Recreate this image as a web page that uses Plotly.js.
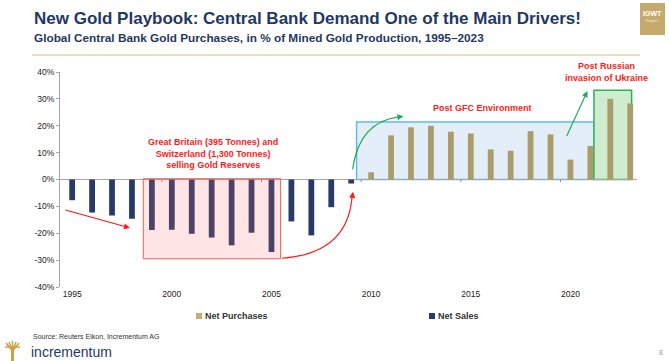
<!DOCTYPE html>
<html>
<head>
<meta charset="utf-8">
<script src="https://cdn.plot.ly/plotly-3.0.1.min.js"></script>
<style>
html,body{margin:0;padding:0;background:#fff;}
#chart{width:669px;height:361px;}
</style>
</head>
<body>
<div id="chart"></div>
<script>
// ---- data ----
const years = [1995,1996,1997,1998,1999,2000,2001,2002,2003,2004,2005,2006,2007,2008,2009,2010,2011,2012,2013,2014,2015,2016,2017,2018,2019,2020,2021,2022,2023];
const netPurchases = [null,null,null,null,null,null,null,null,null,null,null,null,null,null,null,2.7,16.4,19.4,20.0,17.8,17.1,11.2,10.7,18.0,16.8,7.4,12.5,30.0,28.3];
const netSales = [-7.7,-12.3,-13.4,-14.6,-18.8,-18.7,-20.2,-21.6,-24.5,-19.8,-27.0,-15.6,-20.8,-10.3,-1.5,null,null,null,null,null,null,null,null,null,null,null,null,null,null];
const seriesNames = ['Net Purchases','Net Sales'];
const seriesColors = ['#aa9c6b','#283a66'];
const xTickYears = [1995,2000,2005,2010,2015,2020];
const yTicks = [-40,-30,-20,-10,0,10,20,30,40];

// ---- geometry helpers (pixel -> paper) ----
const W = 669, H = 361, L = 60, R = 32, T = 72, B = 74;
const PW = W - L - R, PH = H - T - B;
const px = x => (x - L) / PW;
const py = y => (H - B - y) / PH;

const FONT = 'Liberation Sans, Arial, sans-serif';
const NAVY = '#1f3864';
const RED = '#ff1a1a';
const GREEN = '#1fae55';

const traces = [
  {type:'bar', x: years, y: netPurchases, name: seriesNames[0], width:0.29,
   marker:{color:seriesColors[0]}, hoverinfo:'x+y'},
  {type:'bar', x: years, y: netSales, name: seriesNames[1], width:0.29,
   marker:{color:seriesColors[1]}, hoverinfo:'x+y'}
];

// legend layout (pixel positions of the swatches)
const legendPos = [196, 429];
const legendY = 316;

const shapes = [
  // header gold rule
  {type:'line', xref:'paper', yref:'paper', x0:px(32), x1:px(640), y0:py(55), y1:py(55), line:{color:'#d6bd82', width:1}},
  // IGWT box
  {type:'rect', xref:'paper', yref:'paper', x0:px(640), x1:px(665), y0:py(35), y1:py(3), fillcolor:'#c6a96c', line:{width:0}},
  // regions
  {type:'rect', xref:'x', yref:'y', x0:2009.27, x1:2021.18, y0:0, y1:21.4, layer:'below', fillcolor:'#e4eef8', line:{color:'#5cbdea', width:1.5}},
  {type:'rect', xref:'x', yref:'y', x0:2021.18, x1:2023.07, y0:0, y1:33.2, layer:'below', fillcolor:'#cfeccf', line:{color:'#2bb35a', width:1.5}},
  {type:'rect', xref:'x', yref:'y', x0:1998.57, x1:2005.46, y0:-29.5, y1:0.3, layer:'above', fillcolor:'rgba(255,110,110,0.18)', line:{color:'#ff5a5a', width:1}},
  // curved arrows
  {type:'path', xref:'x', yref:'y', path:'M2005.52,-29.3 Q2008.9,-27.5 2009.05,-5.5', line:{color:RED, width:1.2}},
  {type:'path', xref:'x', yref:'y', path:'M2009.07,3.8 Q2009.4,21.5 2011.4,23.3', line:{color:GREEN, width:1.2}},
  // small category ticks on zero line
  ...[1999.5,2004.5,2009.5,2014.5,2019.5].map(v => ({type:'line', xref:'x', yref:'y', x0:v, x1:v, y0:0, y1:-0.9, line:{color:'#888', width:1}})),
  // legend swatches
  ...legendPos.map((lx, i) => ({type:'rect', xref:'paper', yref:'paper', x0:px(lx), x1:px(lx+6), y0:py(legendY+3), y1:py(legendY-3),
     fillcolor: i === 0 ? '#c2ad74' : seriesColors[1], line:{width:0}})),
  // logo tree (simple)
  {type:'rect', xref:'paper', yref:'paper', x0:px(11), x1:px(14), y0:py(361), y1:py(350), fillcolor:'#c9a24e', line:{width:0}},
  {type:'path', xref:'paper', yref:'paper',
   path:`M${px(12.5)},${py(351)} L${px(6)},${py(343)} M${px(12.5)},${py(351)} L${px(9)},${py(342)} M${px(12.5)},${py(351)} L${px(12.5)},${py(341)} M${px(12.5)},${py(351)} L${px(16)},${py(342)} M${px(12.5)},${py(351)} L${px(19)},${py(343)} M${px(5)},${py(347)} L${px(20)},${py(347)}`,
   line:{color:'#c9a24e', width:1.5}}
];

const ann = [
  {xref:'paper', yref:'paper', x:px(32), y:py(18), xanchor:'left', yanchor:'middle', showarrow:false,
   text:'<b>New Gold Playbook: Central Bank Demand One of the Main Drivers!</b>', font:{family:FONT, size:17, color:NAVY}},
  {xref:'paper', yref:'paper', x:px(32), y:py(38), xanchor:'left', yanchor:'middle', showarrow:false,
   text:'<b>Global Central Bank Gold Purchases, in % of Mined Gold Production, 1995–2023</b>', font:{family:FONT, size:11.8, color:NAVY}},
  {xref:'paper', yref:'paper', x:px(652.5), y:py(13), xanchor:'center', yanchor:'middle', showarrow:false,
   text:'<b>IGWT</b>', font:{family:FONT, size:7, color:'#ffffff'}},
  {xref:'paper', yref:'paper', x:px(652.5), y:py(21), xanchor:'center', yanchor:'middle', showarrow:false,
   text:'Report', font:{family:FONT, size:4, color:'#f4ead2'}},
  // region labels
  {xref:'x', yref:'y', x:2002.07, y:9.6, xanchor:'center', yanchor:'middle', showarrow:false, align:'center',
   text:'<b>Great Britain (395 Tonnes) and<br>Switzerland (1,300 Tonnes)<br>selling Gold Reserves</b>', font:{family:FONT, size:9, color:RED}},
  {xref:'x', yref:'y', x:2015.6, y:26.6, xanchor:'center', yanchor:'middle', showarrow:false,
   text:'<b>Post GFC Environment</b>', font:{family:FONT, size:9, color:RED}},
  {xref:'x', yref:'y', x:2021.82, y:39.9, xanchor:'center', yanchor:'middle', showarrow:false, align:'center',
   text:'<b>Post Russian<br>invasion of Ukraine</b>', font:{family:FONT, size:9, color:RED}},
  // straight arrows
  {xref:'x', yref:'y', axref:'x', ayref:'y', x:1997.9, y:-18.0, ax:1994.59, ay:-11.2, text:'', showarrow:true,
   arrowhead:2, arrowsize:1, arrowwidth:1.2, arrowcolor:RED},
  {xref:'x', yref:'y', axref:'x', ayref:'y', x:2020.85, y:32.9, ax:2019.78, ay:15.6, text:'', showarrow:true,
   arrowhead:2, arrowsize:1, arrowwidth:1.2, arrowcolor:GREEN},
  // arrowheads for curved arrows
  {xref:'x', yref:'y', x:2009.09, y:-4.6, ax:-1, ay:7, text:'', showarrow:true, arrowhead:2, arrowsize:1, arrowwidth:1.2, arrowcolor:RED, standoff:0},
  {xref:'x', yref:'y', x:2011.62, y:23.5, ax:-7, ay:1, text:'', showarrow:true, arrowhead:2, arrowsize:1, arrowwidth:1.2, arrowcolor:GREEN, standoff:0},
  // legend labels
  ...legendPos.map((lx, i) => ({xref:'paper', yref:'paper', x:px(lx+7), y:py(legendY), xanchor:'left', yanchor:'middle', showarrow:false,
     text:'<b>' + seriesNames[i] + '</b>', font:{family:FONT, size:9, color:'#333'}})),
  // footer
  {xref:'paper', yref:'paper', x:px(31), y:py(336), xanchor:'left', yanchor:'middle', showarrow:false,
   text:'Source: Reuters Eikon, Incrementum AG', font:{family:FONT, size:7, color:'#333'}},
  {xref:'paper', yref:'paper', x:px(29), y:py(352), xanchor:'left', yanchor:'middle', showarrow:false,
   text:'incrementum', font:{family:FONT, size:14, color:NAVY}},
  {xref:'paper', yref:'paper', x:px(661), y:py(352), xanchor:'center', yanchor:'middle', showarrow:false,
   text:'8', font:{family:FONT, size:7, color:'#999'}}
];

const layout = {
  width: W, height: H,
  margin:{l:L, r:R, t:T, b:B, pad:0},
  paper_bgcolor:'#fff', plot_bgcolor:'rgba(0,0,0,0)',
  font:{family:FONT, size:8.5, color:'#222'},
  barmode:'overlay',
  showlegend:false,
  xaxis:{range:[1994.39, 2023.34], tickvals:xTickYears, ticktext:xTickYears.map(String),
         showgrid:false, zeroline:false, showline:false, ticks:'', tickfont:{size:8.5, color:'#222'},
         fixedrange:true},
  yaxis:{range:[-40, 40], tickvals:yTicks, ticktext:yTicks.map(v => v + '%'),
         showgrid:false, zeroline:true, zerolinecolor:'#a6a6a6', zerolinewidth:1,
         showline:true, linecolor:'#a6a6a6', linewidth:1, ticks:'outside', ticklen:3, tickcolor:'#a6a6a6',
         tickfont:{size:8.5, color:'#222'}, fixedrange:true},
  shapes: shapes,
  annotations: ann
};

Plotly.newPlot('chart', traces, layout, {displayModeBar:false, staticPlot:true});
</script>
</body>
</html>
